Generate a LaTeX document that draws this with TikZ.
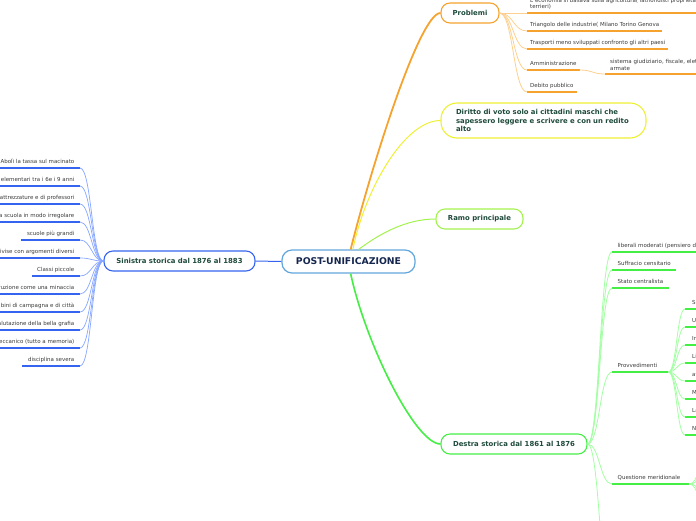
\documentclass[tikz,border=0pt]{standalone}
\usepackage{fontspec}
\setmainfont{DejaVu Sans}
\usetikzlibrary{calc, positioning}
\definecolor{rootblue}{HTML}{62A6DC}
\definecolor{roottext}{HTML}{15264F}
\definecolor{boxtext}{HTML}{1F4B3B}
\definecolor{leafgray}{HTML}{3A3A3A}
\definecolor{sinblue}{HTML}{3565F0}
\definecolor{sinlight}{HTML}{86A6FF}
\definecolor{probframe}{HTML}{F5A32E}
\definecolor{problight}{HTML}{FDD08F}
\definecolor{votoframe}{HTML}{EEF032}
\definecolor{ramoframe}{HTML}{A4F24E}
\definecolor{desframe}{HTML}{45EE45}
\definecolor{deslight}{HTML}{A2FFA2}
\tikzset{
	topic/.style={draw, fill=white, rounded corners=9pt, line width=1.1pt,
		minimum height=20pt, inner xsep=8pt,
		font=\fontsize{6.9}{8.5}\selectfont\bfseries\color{boxtext}}
}
\tikzset{
	leaf/.style={inner xsep=5.5pt, inner ysep=3.2pt, text height=4pt, text depth=1.3pt,
		font=\fontsize{5.5}{6.7}\selectfont\color{leafgray}},
	pleaf/.style={leaf, inner xsep=3pt}
}
\tikzset{
	leafwrap/.style={inner xsep=3pt, inner ysep=3.2pt, align=left,
		font=\fontsize{5.5}{6.7}\selectfont\color{leafgray}}
}
\tikzset{
	mm/.style={to path={let \p1=(\tikztostart), \p2=(\tikztotarget) in
		.. controls ({0.5*\x1+0.5*\x2},\y1) and ({0.5*\x1+0.5*\x2},\y2) .. (\tikztotarget)}},
	sinline/.style={draw=sinblue, line width=2pt},
	sinlink/.style={draw=sinlight, line width=0.7pt},
	probline/.style={draw=probframe, line width=2pt},
	problink/.style={draw=problight, line width=0.8pt},
	desline/.style={draw=desframe, line width=2pt},
	deslink/.style={draw=deslight, line width=0.8pt}
}

\begin{document}
\begin{tikzpicture}[x=1pt, y=-1pt]
  \useasboundingbox (0,0) rectangle (696,520);
  \clip (0,0) rectangle (696,520);

  % main topics
  \node[topic, draw=rootblue, rounded corners=10pt, line width=1.2pt, minimum width=133pt, minimum height=23pt,
    font=\fontsize{9.3}{11}\selectfont\bfseries\color{roottext}] (root) at (348.5,261.5) {POST-UNIFICAZIONE};
  \node[topic, draw=sinblue, minimum width=151pt] (sin) at (179.5,261) {Sinistra storica dal 1876 al 1883};
  \node[topic, draw=probframe, minimum width=58pt] (prob) at (470,13) {Problemi};
  \node[topic, draw=votoframe, rounded corners=16pt, minimum height=35pt, text width=175pt, align=left,
    inner xsep=15pt] (voto) at (543.5,120.5) {Diritto di voto solo ai cittadini maschi che\\sapessero leggere e scrivere e con un redito\\alto};
  \node[topic, draw=ramoframe, minimum width=87pt] (ramo) at (479.5,219) {Ramo principale};
  \node[topic, draw=desframe, minimum width=146pt] (des) at (514,444) {Destra storica dal 1861 al 1876};

  \draw[sinblue, line width=1pt] (sin.east) -- (root.west);
  \draw[probframe, line width=1.8pt] (root.80) .. controls +(20,-80) and +(-21,0) .. (prob.west);
  \draw[votoframe, line width=1pt] (root.70) .. controls +(12,-60) and +(-36,0) .. (voto.west);
  \draw[ramoframe, line width=1pt] (root.50) .. controls +(20,-15) and +(-30,0) .. (ramo.west);
  \draw[desframe, line width=1.6pt] (root.-80) .. controls +(15,70) and +(-25,0) .. (des.west);

  % sinistra storica
  \foreach \txt [count=\i] in {Abolì la tassa sul macinato, elementari tra i 6e i 9 anni,
      attrezzature e di professori, a scuola in modo irregolare, scuole più grandi,
      ivise con argomenti diversi, Classi piccole, ruzione come una minaccia,
      bini di campagna e di città, alutazione della bella grafia,
      eccanico (tutto a memoria), disciplina severa}{
    \node[leaf, anchor=south east] (s\i) at (80,150+18*\i) {\txt};
    \draw[sinline] (s\i.south west) -- (s\i.south east);
    \draw[sinlink] (s\i.south east) to[mm] (sin.west);
  }

  % problemi
  \node[leafwrap, anchor=south west, text width=200pt] (pb1) at (527,13) {L'economia si basava sulla agricoltura( latifondisti proprietari\\terrieri)};
  \node[pleaf, anchor=south west] (pb2) at (527,31) {Triangolo delle industrie( Milano Torino Genova};
  \node[pleaf, anchor=south west] (pb3) at (527,49) {Trasporti meno sviluppati confronto gli altri paesi};
  \node[pleaf, anchor=south west] (pb4) at (527,70) {Amministrazione};
  \node[leafwrap, anchor=south west, inner xsep=5pt, text width=100pt] (pb4a) at (605,74) {sistema giudiziario, fiscale, elet\\armate};
  \node[pleaf, anchor=south west] (pb5) at (527,92) {Debito pubblico};
  \foreach \nm in {pb1,pb2,pb3,pb4,pb5}{
    \draw[probline] (\nm.south west) -- (\nm.south east);
    \draw[problink] (prob.east) to[mm] (\nm.south west);
  }
  \draw[probline] (pb4a.south west) -- (pb4a.south east);
  \draw[problink] (pb4.south east) to[mm] (pb4a.south west);

  % destra storica
  \node[leaf, anchor=south west, text width=95pt] (ds1) at (612,252) {liberali moderati (pensiero d};
  \node[leaf, anchor=south west] (ds2) at (612,270) {Suffracio censitario};
  \node[leaf, anchor=south west] (ds3) at (612,288) {Stato centralista};
  \node[leaf, anchor=south west, text width=45pt] (ds4) at (612,372) {Provvedimenti};
  \node[leaf, anchor=south west, text width=66pt] (ds5) at (612,484) {Questione meridionale};
  \coordinate (ds6) at (612,600);
  \foreach \nm in {ds1,ds2,ds3,ds4,ds5}{
    \draw[desline] (\nm.south west) -- (\nm.south east);
    \draw[deslink] (des.east) to[mm] (\nm.south west);
  }
  \draw[deslink] (des.east) to[mm] (ds6);

  \foreach \txt [count=\i] in {Sl,U,In,Li,at,M,La,N}{
    \node[leaf, anchor=south west, inner xsep=7pt, text width=20pt] (pv\i) at (685,291+18*\i) {\txt};
    \draw[desline] (pv\i.south west) -- (pv\i.south east);
    \draw[deslink] (ds4.south east) to[mm] (pv\i.south west);
  }
  \foreach \yy [count=\i] in {458,474,494,510}{
    \coordinate (qm\i) at (708,\yy);
    \draw[deslink] (ds5.south east) to[mm] (qm\i);
  }
\end{tikzpicture}
\end{document}
